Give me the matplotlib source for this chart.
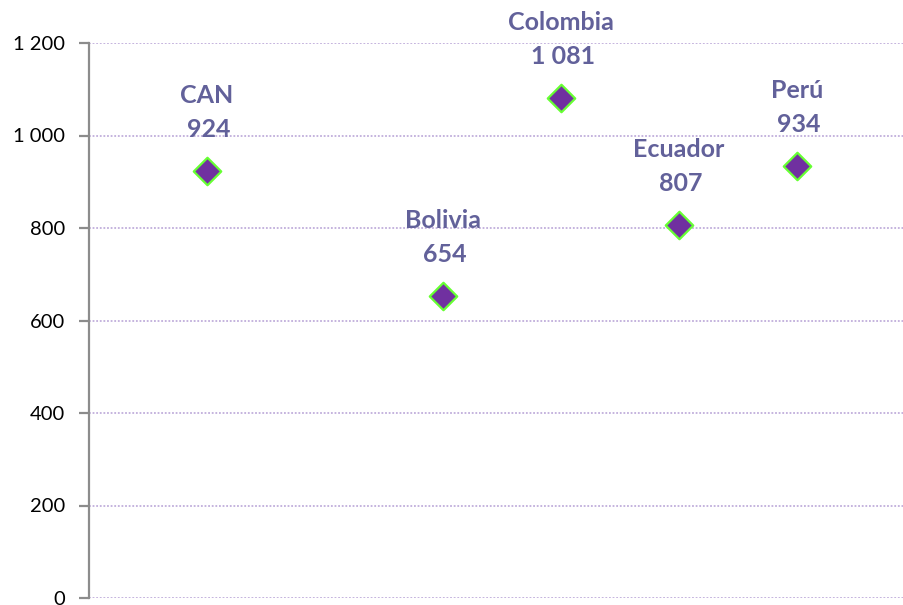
import matplotlib
matplotlib.use("Agg")
import matplotlib.pyplot as plt

# data
countries = ["CAN", "Bolivia", "Colombia", "Ecuador", "Perú"]
x_pos = [1, 3, 4, 5, 6]
values = [924, 654, 1081, 807, 934]
y_ticks = [0, 200, 400, 600, 800, 1000, 1200]
y_tick_labels = ["0", "200", "400", "600", "800", "1 000", "1 200"]

label_color = "#62619a"
grid_color = "#c0aedb"
spine_color = "#8c8c8c"

plt.rcParams["font.family"] = ["Lato", "DejaVu Sans"]

fig = plt.figure(figsize=(9.04, 6.05), dpi=100)
W, H = 904, 605
# x=0 at 89px, x=7 at 915px (cropped on the right); y=0 at 598px, y=1200 at 43px
ax = fig.add_axes([89 / W, (H - 598) / H, (915 - 89) / W, (598 - 43) / H])

ax.scatter(x_pos, values, marker="D", s=14 ** 2, color="#7030a0",
           edgecolors="#66ff33", linewidths=1.6, zorder=3)

for name, x, v in zip(countries, x_pos, values):
    val_txt = f"{v:,}".replace(",", " ")
    ax.annotate(val_txt, (x, v), xytext=(2, 34), textcoords="offset pixels",
                ha="center", va="baseline", fontsize=18, fontweight="bold",
                color=label_color)
    ax.annotate(name, (x, v), xytext=(0, 68), textcoords="offset pixels",
                ha="center", va="baseline", fontsize=18, fontweight="bold",
                color=label_color)

ax.set_xlim(0, 7)
ax.set_ylim(0, 1200)
ax.set_yticks(y_ticks)
ax.set_yticklabels(y_tick_labels, fontsize=14.5)
ax.set_xticks([])

for y in y_ticks:
    ax.axhline(y, color=grid_color, linestyle=(0, (1, 1)), linewidth=1.3, zorder=1)

for side in ["top", "right", "bottom"]:
    ax.spines[side].set_visible(False)
ax.spines["left"].set_color(spine_color)
ax.spines["left"].set_linewidth(1.6)
ax.tick_params(axis="y", direction="out", length=7, width=1.6, color=spine_color,
               pad=10, labelcolor="black")

fig.savefig("out.png", dpi=100)
